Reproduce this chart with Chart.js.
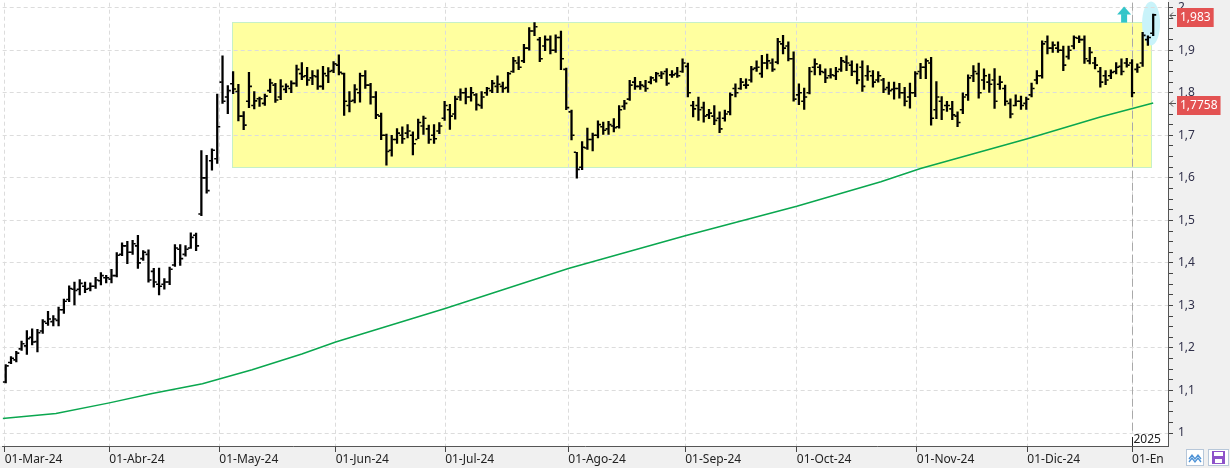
<!DOCTYPE html>
<html>
<head>
<meta charset="utf-8">
<script src="https://cdn.jsdelivr.net/npm/chart.js@4.4.1/dist/chart.umd.min.js"></script>
<style>
  html, body { margin: 0; padding: 0; background: #fff; overflow: hidden; }
</style>
</head>
<body>
<canvas id="chart" width="1230" height="468"></canvas>
<script>
// daily OHLC, 01-Mar-24 .. 08-Jan-25 (x = trading day index)
const HIGH = [
  1.161,1.180,1.192,1.216,1.241,1.245,1.244,1.267,1.286,1.276,
  1.296,1.315,1.346,1.355,1.361,1.355,1.353,1.366,1.377,1.371,
  1.385,1.424,1.447,1.451,1.453,1.465,1.429,1.431,1.387,1.388,
  1.363,1.390,1.443,1.443,1.441,1.471,1.470,1.664,1.653,1.668,
  1.797,1.887,1.817,1.850,1.820,1.756,1.848,1.803,1.790,1.797,
  1.832,1.822,1.831,1.821,1.828,1.865,1.871,1.860,1.852,1.854,
  1.862,1.859,1.873,1.889,1.846,1.803,1.819,1.846,1.852,1.822,
  1.803,1.752,1.703,1.700,1.716,1.720,1.725,1.708,1.738,1.745,
  1.724,1.725,1.730,1.780,1.773,1.792,1.809,1.811,1.813,1.798,
  1.803,1.813,1.829,1.840,1.825,1.848,1.883,1.885,1.914,1.953,
  1.965,1.930,1.934,1.934,1.936,1.945,1.858,1.759,1.660,1.685,
  1.717,1.705,1.734,1.731,1.733,1.739,1.770,1.782,1.829,1.836,
  1.827,1.829,1.838,1.848,1.850,1.857,1.852,1.860,1.880,1.870,
  1.780,1.790,1.778,1.761,1.770,1.755,1.759,1.800,1.821,1.834,
  1.833,1.862,1.875,1.888,1.891,1.880,1.928,1.935,1.920,1.896,
  1.821,1.811,1.860,1.880,1.866,1.856,1.857,1.860,1.883,1.887,
  1.875,1.868,1.875,1.864,1.852,1.850,1.834,1.825,1.825,1.822,
  1.813,1.823,1.850,1.869,1.880,1.883,1.826,1.791,1.780,1.780,
  1.755,1.800,1.842,1.864,1.870,1.856,1.844,1.857,1.839,1.818,
  1.786,1.795,1.792,1.790,1.823,1.852,1.922,1.934,1.920,1.920,
  1.910,1.910,1.934,1.934,1.934,1.907,1.883,1.860,1.852,1.854,
  1.871,1.880,1.881,1.878,1.868,1.942,1.934,1.985
];
const LOW = [
  1.118,1.163,1.167,1.194,1.185,1.207,1.191,1.234,1.253,1.252,
  1.252,1.281,1.309,1.301,1.325,1.330,1.334,1.340,1.348,1.353,
  1.353,1.367,1.417,1.398,1.420,1.387,1.406,1.355,1.343,1.325,
  1.338,1.349,1.392,1.394,1.416,1.434,1.429,1.511,1.564,1.618,
  1.634,1.775,1.751,1.798,1.734,1.713,1.765,1.762,1.768,1.770,
  1.800,1.777,1.784,1.800,1.800,1.815,1.831,1.817,1.819,1.808,
  1.808,1.824,1.847,1.842,1.747,1.755,1.776,1.778,1.810,1.773,
  1.739,1.690,1.630,1.651,1.681,1.681,1.694,1.654,1.692,1.702,
  1.681,1.681,1.704,1.735,1.714,1.738,1.782,1.774,1.780,1.759,
  1.763,1.794,1.800,1.800,1.801,1.801,1.848,1.854,1.871,1.900,
  1.934,1.873,1.899,1.891,1.895,1.854,1.760,1.689,1.599,1.619,
  1.667,1.663,1.694,1.702,1.702,1.708,1.717,1.761,1.782,1.808,
  1.808,1.803,1.821,1.825,1.833,1.817,1.836,1.836,1.848,1.790,
  1.743,1.735,1.731,1.739,1.725,1.706,1.733,1.748,1.790,1.808,
  1.810,1.825,1.850,1.836,1.856,1.850,1.868,1.891,1.875,1.780,
  1.772,1.761,1.797,1.842,1.842,1.824,1.834,1.831,1.850,1.852,
  1.840,1.821,1.803,1.829,1.813,1.825,1.800,1.796,1.785,1.787,
  1.769,1.764,1.791,1.833,1.833,1.724,1.739,1.737,1.756,1.737,
  1.720,1.751,1.782,1.826,1.787,1.808,1.801,1.763,1.808,1.770,
  1.741,1.769,1.761,1.761,1.790,1.821,1.834,1.891,1.895,1.895,
  1.852,1.879,1.903,1.918,1.869,1.868,1.856,1.813,1.819,1.833,
  1.844,1.842,1.860,1.790,1.848,1.862,1.911,1.934
];
const OPEN = [
  1.120,1.166,1.172,1.198,1.205,1.225,1.215,1.240,1.258,1.262,
  1.265,1.290,1.314,1.338,1.338,1.345,1.340,1.345,1.358,1.365,
  1.362,1.370,1.420,1.440,1.425,1.440,1.410,1.420,1.380,1.350,
  1.350,1.355,1.395,1.432,1.420,1.435,1.465,1.515,1.600,1.640,
  1.645,1.825,1.790,1.821,1.803,1.745,1.780,1.770,1.786,1.775,
  1.805,1.818,1.790,1.808,1.810,1.822,1.845,1.840,1.835,1.838,
  1.815,1.840,1.852,1.865,1.845,1.770,1.782,1.800,1.840,1.818,
  1.790,1.745,1.700,1.665,1.690,1.700,1.705,1.700,1.690,1.722,
  1.715,1.700,1.710,1.740,1.760,1.750,1.790,1.800,1.790,1.795,
  1.770,1.800,1.805,1.815,1.815,1.812,1.850,1.870,1.875,1.905,
  1.945,1.925,1.910,1.925,1.900,1.930,1.855,1.755,1.660,1.625,
  1.670,1.690,1.700,1.720,1.715,1.722,1.720,1.768,1.785,1.825,
  1.815,1.815,1.825,1.830,1.840,1.850,1.842,1.845,1.850,1.862,
  1.770,1.770,1.765,1.748,1.745,1.740,1.740,1.755,1.810,1.810,
  1.818,1.830,1.858,1.845,1.870,1.870,1.872,1.915,1.910,1.880,
  1.795,1.780,1.800,1.860,1.860,1.848,1.840,1.840,1.855,1.872,
  1.865,1.850,1.860,1.840,1.840,1.830,1.830,1.812,1.808,1.810,
  1.800,1.790,1.800,1.850,1.860,1.870,1.760,1.780,1.770,1.762,
  1.745,1.760,1.795,1.840,1.845,1.830,1.825,1.830,1.820,1.810,
  1.775,1.770,1.780,1.775,1.795,1.830,1.840,1.920,1.905,1.905,
  1.900,1.885,1.910,1.928,1.925,1.875,1.870,1.850,1.840,1.840,
  1.850,1.862,1.870,1.870,1.855,1.870,1.925,1.940
];
const CLOSE = [
  1.158,1.176,1.188,1.210,1.222,1.214,1.236,1.262,1.268,1.268,
  1.290,1.310,1.340,1.335,1.352,1.338,1.345,1.360,1.370,1.365,
  1.370,1.418,1.440,1.425,1.445,1.400,1.425,1.360,1.355,1.345,
  1.355,1.385,1.435,1.410,1.432,1.460,1.440,1.600,1.570,1.665,
  1.720,1.780,1.805,1.809,1.745,1.724,1.815,1.781,1.786,1.792,
  1.823,1.783,1.815,1.815,1.822,1.855,1.838,1.830,1.840,1.815,
  1.845,1.850,1.868,1.848,1.780,1.780,1.808,1.840,1.818,1.790,
  1.748,1.700,1.662,1.690,1.705,1.692,1.710,1.680,1.730,1.740,
  1.690,1.692,1.722,1.770,1.745,1.785,1.800,1.790,1.800,1.772,
  1.790,1.810,1.822,1.820,1.810,1.845,1.875,1.860,1.905,1.945,
  1.955,1.880,1.925,1.900,1.930,1.880,1.765,1.700,1.620,1.672,
  1.690,1.700,1.725,1.712,1.725,1.718,1.760,1.775,1.818,1.815,
  1.818,1.810,1.835,1.845,1.845,1.822,1.842,1.840,1.870,1.800,
  1.762,1.760,1.745,1.752,1.735,1.715,1.750,1.795,1.800,1.825,
  1.818,1.855,1.860,1.870,1.875,1.855,1.920,1.905,1.880,1.785,
  1.800,1.790,1.850,1.868,1.850,1.835,1.842,1.850,1.875,1.870,
  1.850,1.830,1.815,1.850,1.825,1.840,1.808,1.805,1.810,1.800,
  1.780,1.800,1.845,1.860,1.875,1.740,1.790,1.760,1.770,1.748,
  1.730,1.790,1.835,1.850,1.800,1.840,1.820,1.780,1.825,1.780,
  1.750,1.780,1.770,1.785,1.810,1.840,1.915,1.905,1.912,1.900,
  1.865,1.900,1.930,1.925,1.880,1.895,1.865,1.825,1.830,1.848,
  1.860,1.850,1.865,1.800,1.860,1.935,1.930,1.983
];

// moving average (read at a few points along the green curve)
const MA_X = [-0.6, 9.5, 19.6, 27.7, 37.2, 46.6, 56, 62.4, 83.1, 106.4, 128.5, 149.6, 165.5, 173, 193.2, 207, 217];
const MA_Y = [1.034, 1.046, 1.071, 1.093, 1.116, 1.149, 1.186, 1.214, 1.293, 1.387, 1.464, 1.533, 1.591, 1.622, 1.692, 1.743, 1.7758];

// axis ticks
const MONTH_TICKS = [-0.2, 19.6, 40.4, 62.4, 83.1, 106.4, 128.5, 149.6, 172.3, 193.2, 213];
const MONTH_LABELS = ['01-Mar-24', '01-Abr-24', '01-May-24', '01-Jun-24', '01-Jul-24', '01-Ago-24',
                      '01-Sep-24', '01-Oct-24', '01-Nov-24', '01-Dic-24', '01-En'];
const Y_TICKS = [1, 1.1, 1.2, 1.3, 1.4, 1.5, 1.6, 1.7, 1.8, 1.9, 2];
const Y_LABELS = ['1', '1,1', '1,2', '1,3', '1,4', '1,5', '1,6', '1,7', '1,8', '1,9', '2'];

// price tags on the right axis
const TAG_VALUES = [1.983, 1.7758];
const TAG_TEXT = ['1,983', '1,7758'];

// annotations
const BOX = { from: 42.7, to: 216.5, low: 1.626, high: 1.967 };
const YEAR_MARK = { x: 213, text: '2025' };
const SIGNAL = { x: 211.5, y: 1.965 };
const HALO = { x: 216.6, y: 1.963 };

const X_MIN = -0.57, X_MAX = 219.8;
const Y_MIN = 0.9696, Y_MAX = 2.0117;

const FONT = '"Noto Sans", "DejaVu Sans", sans-serif';
Chart.defaults.font.family = FONT;
Chart.defaults.font.size = 12;

const rangeData = HIGH.map((h, i) => ({ x: i, y: [LOW[i], h] }));
const openData = OPEN.map((o, i) => ({ x: i - 0.36, y: o }));
const closeData = CLOSE.map((c, i) => ({ x: i + 0.36, y: c }));
const maData = MA_X.map((x, k) => ({ x: x, y: MA_Y[k] }));

const decor = {
  id: 'decor',
  beforeDraw(chart) {
    const { ctx, chartArea: a, scales: { x, y } } = chart;
    ctx.save();
    ctx.fillStyle = '#fff';
    ctx.fillRect(0, 0, chart.width, chart.height);
    ctx.fillStyle = '#f0f0f0';
    ctx.fillRect(a.right, 0, chart.width - a.right, chart.height);
    ctx.fillRect(0, a.bottom, chart.width, chart.height - a.bottom);

    // yellow range box
    const bx0 = Math.round(x.getPixelForValue(BOX.from)) + 0.5;
    const bx1 = Math.round(x.getPixelForValue(BOX.to)) + 0.5;
    const by0 = Math.round(y.getPixelForValue(BOX.high)) + 0.5;
    const by1 = Math.round(y.getPixelForValue(BOX.low)) + 0.5;
    ctx.fillStyle = '#ffff9f';
    ctx.fillRect(bx0, by0, bx1 - bx0, by1 - by0);
    ctx.strokeStyle = '#c6f0c8';
    ctx.lineWidth = 1;
    ctx.strokeRect(bx0, by0, bx1 - bx0, by1 - by0);

    // cyan halo round the last bars
    ctx.fillStyle = '#c9f3fa';
    ctx.beginPath();
    ctx.ellipse(x.getPixelForValue(HALO.x), y.getPixelForValue(HALO.y), 9, 22, 0, 0, Math.PI * 2);
    ctx.fill();
    ctx.restore();
  },
  beforeDatasetsDraw(chart) {
    const { ctx, chartArea: a, scales: { x } } = chart;
    const px = Math.round(x.getPixelForValue(YEAR_MARK.x)) + 0.5;
    ctx.save();
    ctx.strokeStyle = '#a9a9a9';
    ctx.lineWidth = 1;
    ctx.setLineDash([8, 4]);
    ctx.beginPath();
    ctx.moveTo(px, a.top);
    ctx.lineTo(px, a.bottom - 12);
    ctx.stroke();
    ctx.setLineDash([]);
    ctx.strokeStyle = '#222';
    ctx.beginPath();
    ctx.moveTo(px, a.bottom - 9);
    ctx.lineTo(px, a.bottom);
    ctx.stroke();
    ctx.fillStyle = '#222';
    ctx.font = '12px ' + FONT;
    ctx.textBaseline = 'alphabetic';
    ctx.textAlign = 'left';
    ctx.fillText(YEAR_MARK.text, px + 1, a.bottom - 3);
    ctx.restore();
  },
  afterDraw(chart) {
    const { ctx, chartArea: a, scales: { x, y } } = chart;
    ctx.save();

    // signal arrow
    const sx = x.getPixelForValue(SIGNAL.x), sy = y.getPixelForValue(SIGNAL.y);
    ctx.fillStyle = '#33c5c9';
    ctx.beginPath();
    ctx.moveTo(sx - 7, sy - 8);
    ctx.lineTo(sx + 7, sy - 8);
    ctx.lineTo(sx, sy - 16);
    ctx.closePath();
    ctx.fill();
    ctx.fillRect(sx - 3, sy - 8.5, 6, 8.5);

    // price tags
    ctx.font = '12px ' + FONT;
    ctx.textBaseline = 'middle';
    ctx.textAlign = 'left';
    TAG_VALUES.forEach((v, k) => {
      const ty = Math.round(y.getPixelForValue(v)) + 2;
      const w = ctx.measureText(TAG_TEXT[k]).width + 6;
      ctx.fillStyle = '#e35252';
      ctx.fillRect(a.right + 9, ty - 9, w, 19);
      ctx.fillStyle = '#fff';
      ctx.fillText(TAG_TEXT[k], a.right + 12, ty + 1);
      ctx.strokeStyle = '#555';
      ctx.lineWidth = 1;
      ctx.beginPath();
      ctx.moveTo(a.right + 8, ty - 1.5);
      ctx.lineTo(a.right + 2, ty - 1.5);
      ctx.moveTo(a.right + 5, ty - 4.5);
      ctx.lineTo(a.right + 2, ty - 1.5);
      ctx.lineTo(a.right + 5, ty + 1.5);
      ctx.stroke();
    });

    // little buttons bottom right
    const by = a.bottom + 3;
    ctx.fillStyle = '#fff';
    ctx.fillRect(1186, by, 18, 17);
    ctx.strokeStyle = '#b7c7d9';
    ctx.strokeRect(1186.5, by + 0.5, 17, 16);
    ctx.strokeStyle = '#4d92d6';
    ctx.lineWidth = 1.3;
    ctx.beginPath();
    ctx.moveTo(1189, by + 10); ctx.lineTo(1192, by + 6); ctx.lineTo(1195, by + 10);
    ctx.lineTo(1198, by + 6); ctx.lineTo(1201, by + 10);
    ctx.moveTo(1189, by + 13); ctx.lineTo(1192, by + 9); ctx.lineTo(1195, by + 13);
    ctx.lineTo(1198, by + 9); ctx.lineTo(1201, by + 13);
    ctx.stroke();
    ctx.lineWidth = 1;
    ctx.fillStyle = '#fff';
    ctx.fillRect(1208, by, 21, 17);
    ctx.strokeStyle = '#b7c7d9';
    ctx.strokeRect(1208.5, by + 0.5, 20, 16);
    ctx.fillStyle = '#8d52c9';
    ctx.fillRect(1212, by + 2, 13, 13);
    ctx.fillStyle = '#fff';
    ctx.fillRect(1214, by + 3, 9, 4);
    ctx.fillRect(1215, by + 10, 7, 4);
    ctx.restore();
  }
};

new Chart(document.getElementById('chart'), {
  type: 'bar',
  data: {
    datasets: [
      {
        type: 'line',
        label: 'Media',
        data: maData,
        borderColor: '#0aa74f',
        borderWidth: 1.5,
        pointRadius: 0,
        tension: 0,
        order: 4
      },
      {
        label: 'Rango',
        data: rangeData,
        backgroundColor: '#000',
        borderWidth: 0,
        barThickness: 1.6,
        order: 3
      },
      {
        type: 'line',
        label: 'Apertura',
        data: openData,
        showLine: false,
        pointStyle: 'line',
        pointRadius: 1.1,
        pointBorderWidth: 1.6,
        pointBorderColor: '#000',
        pointHoverRadius: 0,
        order: 2
      },
      {
        type: 'line',
        label: 'Cierre',
        data: closeData,
        showLine: false,
        pointStyle: 'line',
        pointRadius: 1.1,
        pointBorderWidth: 1.6,
        pointBorderColor: '#000',
        pointHoverRadius: 0,
        order: 1
      }
    ]
  },
  options: {
    responsive: false,
    animation: false,
    devicePixelRatio: 1,
    layout: { padding: 0 },
    events: [],
    plugins: {
      legend: { display: false },
      tooltip: { enabled: false }
    },
    scales: {
      x: {
        type: 'linear',
        min: X_MIN,
        max: X_MAX,
        offset: false,
        afterBuildTicks: s => { s.ticks = MONTH_TICKS.map(v => ({ value: v })); },
        afterFit: s => { s.height = 22; s.paddingLeft = 0; s.paddingRight = 0; },
        ticks: {
          autoSkip: false,
          maxRotation: 0,
          align: 'start',
          padding: 0,
          color: '#222',
          callback: (v, i) => MONTH_LABELS[i]
        },
        grid: {
          offset: false,
          color: '#dcdcdc',
          lineWidth: 1,
          tickLength: 6,
          tickColor: '#444',
          tickWidth: 1
        },
        border: { display: true, color: '#555', width: 1, dash: [4, 3] }
      },
      y: {
        position: 'right',
        min: Y_MIN,
        max: Y_MAX,
        afterBuildTicks: s => {
          const t = [];
          Y_TICKS.forEach((v, k) => {
            t.push({ value: v, lbl: Y_LABELS[k] });
            if (k < Y_TICKS.length - 1) {
              for (let q = 1; q < 4; q++) t.push({ value: v + q * 0.025, lbl: '' });
            }
          });
          s.ticks = t;
        },
        afterFit: s => { s.width = 62; s.paddingTop = 0; s.paddingBottom = 0; },
        ticks: {
          autoSkip: false,
          padding: 5,
          color: '#30304a',
          callback: (v, i, ticks) => ticks[i].lbl
        },
        grid: {
          color: c => (c.tick && c.tick.lbl) ? '#dcdcdc' : 'rgba(0,0,0,0)',
          lineWidth: 1,
          tickLength: 5,
          tickColor: '#444',
          tickWidth: 1
        },
        border: { display: true, color: '#555', width: 1, dash: [4, 3] }
      }
    }
  },
  plugins: [decor]
});
</script>
</body>
</html>
